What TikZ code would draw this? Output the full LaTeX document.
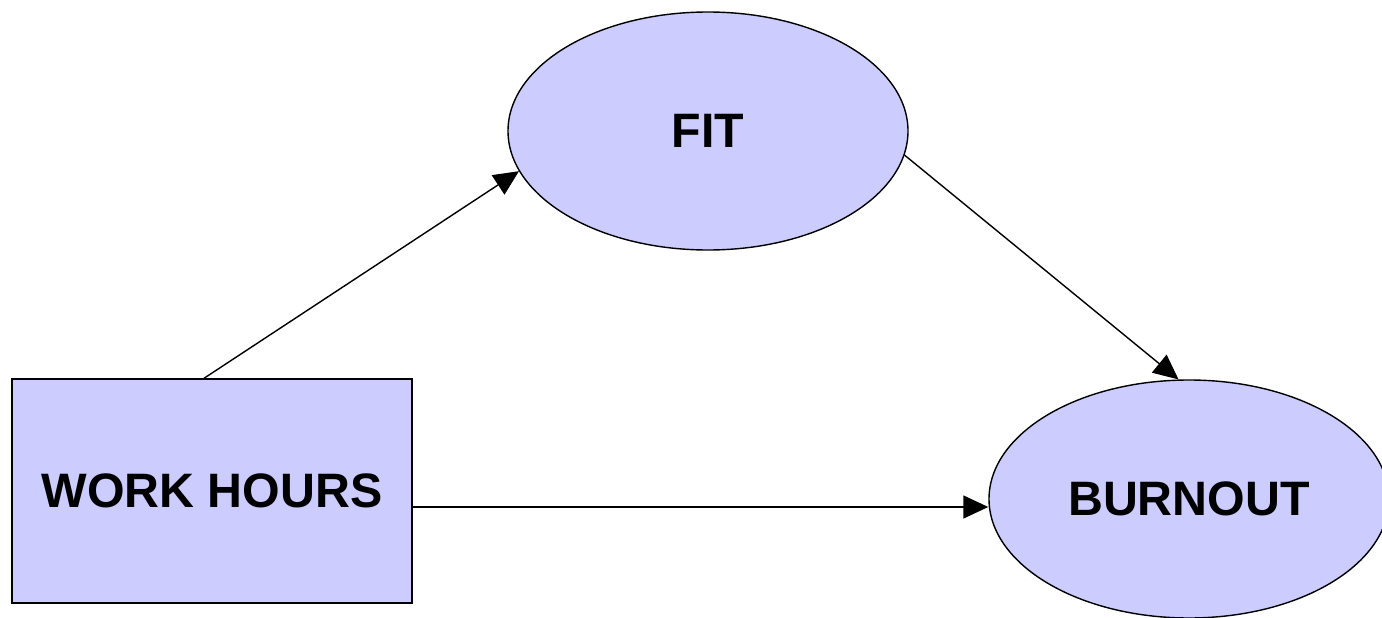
\documentclass[tikz,border=0pt]{standalone}
\usepackage{fontspec}
\setmainfont{Liberation Sans}
\usetikzlibrary{arrows.meta,calc,shapes.geometric}

\begin{document}
\begin{tikzpicture}[>={Triangle[length=0.5cm,width=0.46cm]},->,
      line width=0.8pt,
      var/.style={draw,fill=lav,minimum width=8cm,inner sep=0pt,
        font=\fontsize{27.5}{32}\selectfont\bfseries},
      latent/.style={var,ellipse,minimum height=4.76cm},
      observed/.style={var,rectangle,minimum height=4.48cm}]
      \definecolor{lav}{HTML}{CCCCFF}
      \useasboundingbox (0,0) rectangle (27.64,12.34);

      \node[observed] (wh) at ( 4.24, 2.52) {WORK HOURS};
      \node[latent] (fit) at (14.16, 9.72) {FIT};
      \node[latent] (bo) at (23.78, 2.36) {BURNOUT};

      \coordinate (whs) at ([yshift=-0.32cm]wh.east);

      \path
      ([xshift=-0.16cm]wh.north) edge (fit.192)
      (fit.-7) edge (bo.95)
      (whs) edge (whs -| bo.west)
      ;
\end{tikzpicture}
\end{document}
